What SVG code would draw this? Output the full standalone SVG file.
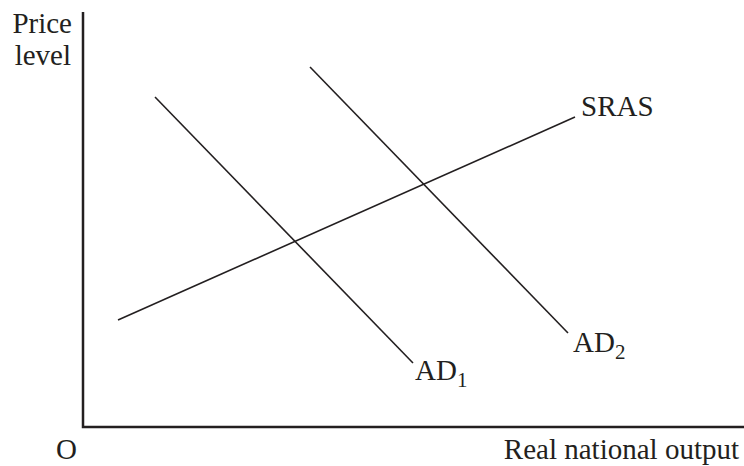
<svg xmlns="http://www.w3.org/2000/svg" width="744" height="466" viewBox="0 0 744 466">
<style>
text{font-family:"Liberation Serif","Times New Roman",serif;font-size:29px;fill:#231f20}
.sub{font-size:21px}
.axis{stroke:#231f20;stroke-width:2.5;fill:none}
.curve{stroke:#231f20;stroke-width:1.6;fill:none}
</style>
<rect width="744" height="466" fill="#fff"/>
<g id="axes">
<polyline class="axis" points="83,12 83,427 744,427"/>
<text x="72" y="33" text-anchor="end">Price</text>
<text x="71" y="65" text-anchor="end">level</text>
<text x="56" y="459">O</text>
<text x="739" y="459" text-anchor="end">Real national output</text>
</g>
<g id="connectors">
<line id="sras-line" class="curve" x1="118" y1="320" x2="575" y2="117"/>
<line id="ad1-line" class="curve" x1="155" y1="97" x2="413" y2="363"/>
<line id="ad2-line" class="curve" x1="310" y1="67" x2="568" y2="333"/>
</g>
<g id="sras"><text x="581" y="116">SRAS</text></g>
<g id="ad1"><text x="415" y="380">AD<tspan class="sub" dy="7">1</tspan></text></g>
<g id="ad2"><text x="573" y="352">AD<tspan class="sub" dy="7">2</tspan></text></g>
</svg>
